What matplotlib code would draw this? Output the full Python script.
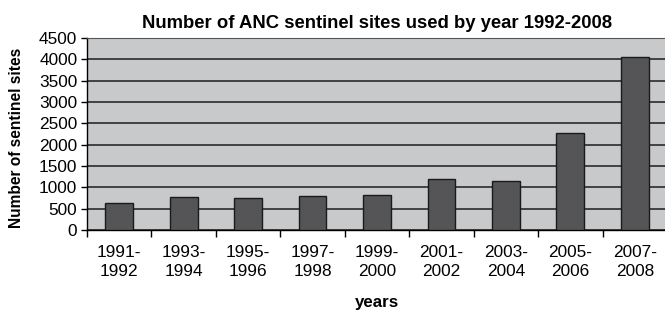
import matplotlib.pyplot as plt
import numpy as np

periods = ['1991-\n1992', '1993-\n1994', '1995-\n1996', '1997-\n1998', '1999-\n2000',
           '2001-\n2002', '2003-\n2004', '2005-\n2006', '2007-\n2008']
sites = [640, 768, 745, 805, 825, 1200, 1150, 2265, 4060]
yticks = [0, 500, 1000, 1500, 2000, 2500, 3000, 3500, 4000, 4500]


def main():
    plt.rc('font', family=['Liberation Sans', 'DejaVu Sans'], size=12.4)

    fig = plt.figure(figsize=(6.65, 3.10), dpi=100)
    ax = fig.add_axes([87 / 665, 1 - 230 / 310, 580 / 665, 192 / 310])
    ax.set_facecolor('#c8c9cb')

    x = np.arange(len(sites)) + 0.5
    ax.bar(x, sites, width=0.43, color='#555557', edgecolor='#1a1a1a',
           linewidth=1.0, zorder=3)

    ax.set_xlim(0, len(sites))
    ax.set_ylim(0, 4500)
    ax.set_yticks(yticks)
    ax.yaxis.grid(True, color='#1e1e1e', linewidth=1.1, zorder=1)
    ax.set_axisbelow(True)

    # labels sit in the middle of each category, tick marks on the boundaries
    ax.set_xticks(x)
    ax.set_xticklabels(periods, linespacing=1.32)
    ax.set_xticks(np.arange(len(sites) + 1), minor=True)
    ax.tick_params(axis='x', which='major', length=0, pad=11)
    ax.tick_params(axis='x', which='minor', length=5, width=1.0, direction='out')
    ax.tick_params(axis='y', length=4, width=1.0, pad=3)

    for side in ['left', 'bottom']:
        ax.spines[side].set_color('black')
        ax.spines[side].set_linewidth(1.0)
    ax.spines['top'].set_color('#555555')
    ax.spines['right'].set_visible(False)

    ax.set_title('Number of ANC sentinel sites used by year 1992-2008',
                 fontweight='bold', fontsize=13.3, pad=7)
    ax.set_ylabel('Number of sentinel sites', fontweight='bold', fontsize=11.2)
    ax.yaxis.set_label_coords(-0.108, 0.48)
    ax.set_xlabel('years', fontweight='bold', fontsize=12.2)
    ax.xaxis.label.set_va('center')
    ax.xaxis.set_label_coords(0.5, -0.375)

    fig.savefig('out.png', dpi=100)


if __name__ == "__main__": main()
